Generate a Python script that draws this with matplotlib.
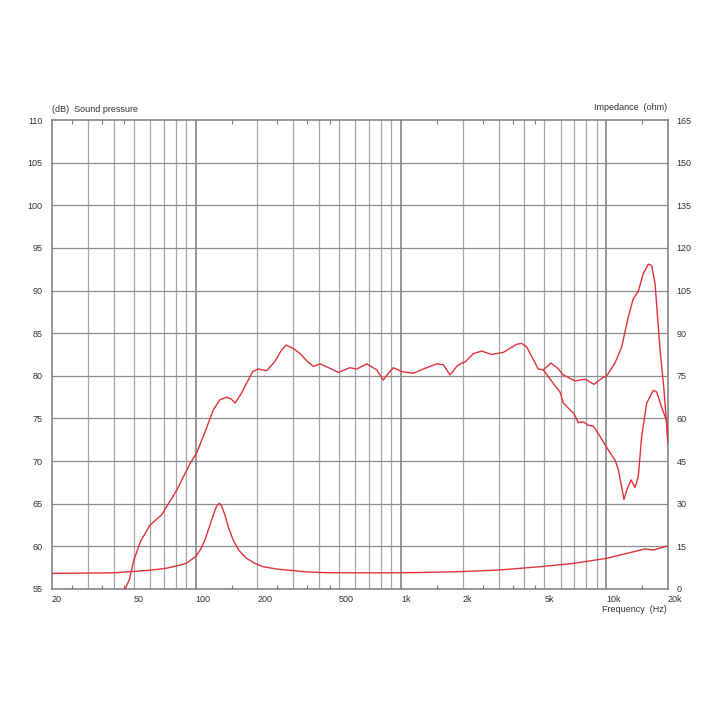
import matplotlib
matplotlib.use("Agg")
import matplotlib.pyplot as plt
from matplotlib.ticker import FixedLocator, NullFormatter, NullLocator
import matplotlib.transforms as mtrans

plt.rcParams['font.family'] = ['Liberation Sans', 'DejaVu Sans']

# ---- data ----
spl_freq = [45.4, 47.6, 50.1, 54, 60, 68.4, 81, 94, 101, 112, 122, 131.6, 142, 149, 155.8,
            166, 177, 190, 202, 222, 244, 262, 276, 300, 323, 350, 375, 404, 450, 496,
            565, 610, 682, 763, 821, 869, 919, 1010, 1150, 1286, 1494, 1610, 1736,
            1870, 1978, 2053, 2253, 2476, 2769, 3155, 3665, 3878, 4100, 4415, 4670,
            4943, 5385, 5800, 6185, 7050, 7890, 8725, 9510, 10060, 11040, 11900,
            12810, 13550, 14330, 15170, 16040, 16670, 17300, 18300, 19100, 20000]
spl_db = [55.0, 56.1, 58.4, 60.6, 62.5, 63.7, 66.6, 69.7, 70.9, 73.6, 76.0, 77.2, 77.5, 77.3, 76.8,
          77.8, 79.1, 80.5, 80.8, 80.6, 81.7, 83.0, 83.6, 83.2, 82.6, 81.7, 81.1, 81.4, 80.9, 80.4,
          80.95, 80.8, 81.4, 80.7, 79.5, 80.3, 80.95, 80.5, 80.3, 80.8, 81.4, 81.3, 80.1,
          81.1, 81.5, 81.6, 82.6, 82.9, 82.5, 82.75, 83.7, 83.8, 83.4, 81.9, 80.8,
          80.7, 81.5, 80.9, 80.1, 79.4, 79.6, 79.0, 79.7, 80.0, 81.5, 83.4,
          86.9, 89.05, 89.9, 92.0, 93.1, 92.9, 90.8, 83.0, 78.5, 72.1]

spl2_freq = [4943, 5530, 5960, 6185, 6670, 6950, 7315, 7740, 8185, 8660, 9330, 10240,
             11040, 11460, 12210, 12590, 13210, 13810, 14330, 14890, 15750, 16960,
             17620, 18630, 19700, 20000]
spl2_db = [80.7, 79.1, 78.1, 76.8, 76.0, 75.6, 74.5, 74.6, 74.2, 74.1, 72.9, 71.3,
           70.1, 69.0, 65.5, 66.6, 67.8, 66.9, 68.2, 72.9, 76.8, 78.3,
           78.1, 76.3, 74.7, 72.0]

imp_freq = [20, 30, 40, 48, 60, 72, 84, 90, 100, 106, 111, 117, 122, 126, 130.5, 134,
            139, 145, 152.6, 163, 177, 195, 213, 250, 300, 350, 433, 600, 900, 1239,
            1940, 3040, 4760, 6920, 10050, 13070, 15460, 16980, 20000]
imp_ohm = [5.5, 5.6, 5.7, 6.1, 6.6, 7.3, 8.4, 9.0, 11.4, 14.0, 17.2, 22.0, 26.0, 28.8, 30.2, 29.2,
           26.0, 21.5, 17.2, 13.5, 10.8, 9.0, 7.85, 7.0, 6.45, 6.0, 5.75, 5.7, 5.7, 5.8,
           6.1, 6.7, 7.85, 9.0, 10.8, 12.8, 14.1, 13.7, 15.2]

x_ticks = [20, 50, 100, 200, 500, 1000, 2000, 5000, 10000, 20000]
x_tick_labels = ['20', '50', '100', '200', '500', '1k', '2k', '5k', '10k', '20k']
minor_ticks = [25, 35, 45, 150, 250, 350, 450, 1500, 2500, 3500, 4500, 15000]
db_ticks = list(range(55, 111, 5))
ohm_ticks = list(range(0, 166, 15))

line_color = '#e0323c'
text_color = '#333333'

fig = plt.figure(figsize=(7.2, 7.2), dpi=100)
ax = fig.add_axes([52/720, 1-589/720, 616/720, 469/720])
ax.set_xscale('log')
ax.set_xlim(20, 20000)
ax.set_ylim(55, 110)

# grid
grid_minor = [f for dec in (10, 100, 1000) for f in [dec*k for k in range(2, 10)] if 20 < f < 20000]
for f in grid_minor:
    ax.axvline(f, color='#a6a6a6', lw=0.9, zorder=1)
for f in (100, 1000, 10000):
    ax.axvline(f, color='#7a7a7a', lw=1.1, zorder=1)
for d in db_ticks[1:-1]:
    ax.axhline(d, color='#8c8c8c', lw=0.9, zorder=1)

for s in ax.spines.values():
    s.set_color('#7a7a7a')
    s.set_linewidth(1.1)

ax.xaxis.set_major_locator(FixedLocator(x_ticks))
ax.set_xticklabels(x_tick_labels)
ax.xaxis.set_minor_locator(FixedLocator(minor_ticks))
ax.xaxis.set_minor_formatter(NullFormatter())
ax.tick_params(axis='x', which='major', length=0, pad=4, labelsize=6.5, colors=text_color)
ax.tick_params(axis='x', which='minor', direction='in', length=3, width=0.8,
               color='#7a7a7a', top=True, bottom=True)
for lab in ax.get_xticklabels():
    lab.set_horizontalalignment('left')

ax.set_yticks(db_ticks)
ax.tick_params(axis='y', length=0, pad=7, labelsize=6.5, colors=text_color)

ax.plot(spl_freq, spl_db, color=line_color, lw=1.0, zorder=3, clip_on=True)
ax.plot(spl2_freq, spl2_db, color=line_color, lw=1.0, zorder=3, clip_on=True)

ax2 = ax.twinx()
ax2.set_ylim(0, 165)
ax2.set_yticks(ohm_ticks)
ax2.tick_params(axis='y', length=0, pad=6, labelsize=6.5, colors=text_color)
for s in ax2.spines.values():
    s.set_visible(False)
ax2.plot(imp_freq, imp_ohm, color=line_color, lw=1.0, zorder=3)

fig.text(52/720, 1-109/720, '(dB)  Sound pressure', fontsize=6.5, color=text_color,
         ha='left', va='center')
fig.text(667/720, 1-108/720, 'Impedance  (ohm)', fontsize=6.5, color=text_color,
         ha='right', va='center')
fig.text(667/720, 1-609/720, 'Frequency  (Hz)', fontsize=6.5, color=text_color,
         ha='right', va='center')

fig.savefig('out.png', dpi=100, facecolor='white')
